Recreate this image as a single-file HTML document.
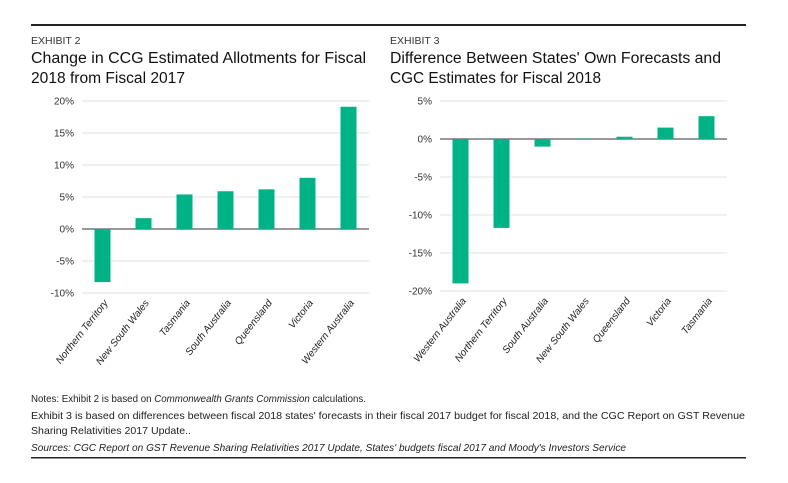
<!DOCTYPE html>
<html><head><meta charset="utf-8">
<style>
body{margin:0;background:#fff;width:788px;height:478px;overflow:hidden;font-family:"Liberation Sans",sans-serif;}
svg text{font-family:"Liberation Sans",sans-serif;}
</style></head>
<body>
<svg id="chart" width="788" height="478" xmlns="http://www.w3.org/2000/svg">
<rect x="31" y="24" width="715" height="2" fill="#222"/>
<text x="31" y="44" font-size="10.5" fill="#333">EXHIBIT 2</text>
<text x="31" y="63" font-size="15.5" fill="#111" textLength="335" lengthAdjust="spacingAndGlyphs">Change in CCG Estimated Allotments for Fiscal</text>
<text x="31" y="83" font-size="15.5" fill="#111" textLength="154" lengthAdjust="spacingAndGlyphs">2018 from Fiscal 2017</text>
<text x="390" y="44" font-size="10.5" fill="#333">EXHIBIT 3</text>
<text x="390" y="63" font-size="15.5" fill="#111" textLength="331" lengthAdjust="spacingAndGlyphs">Difference Between States' Own Forecasts and</text>
<text x="390" y="83" font-size="15.5" fill="#111" textLength="211" lengthAdjust="spacingAndGlyphs">CGC Estimates for Fiscal 2018</text>
<g id="c1"></g><g id="c2"></g>
<text x="31" y="402" font-size="10.5" fill="#222" textLength="335" lengthAdjust="spacingAndGlyphs">Notes: Exhibit 2 is based on <tspan font-style="italic">Commonwealth Grants Commission</tspan> calculations.</text>
<text x="31" y="419" font-size="10.5" fill="#222" textLength="714" lengthAdjust="spacingAndGlyphs">Exhibit 3 is based on differences between fiscal 2018 states' forecasts in their fiscal 2017 budget for fiscal 2018, and the CGC Report on GST Revenue</text>
<text x="31" y="434" font-size="10.5" fill="#222" textLength="160" lengthAdjust="spacingAndGlyphs">Sharing Relativities 2017 Update..</text>
<text x="31" y="451" font-size="10.5" font-style="italic" fill="#222" textLength="595" lengthAdjust="spacingAndGlyphs">Sources: CGC Report on GST Revenue Sharing Relativities 2017 Update, States' budgets fiscal 2017 and Moody's Investors Service</text>
<rect x="31" y="457" width="715" height="1.5" fill="#222"/>
</svg>
<script>
const cats1 = ["Northern Territory","New South Wales","Tasmania","South Australia","Queensland","Victoria","Western Australia"];
const vals1 = [-8.3, 1.7, 5.4, 5.9, 6.2, 8.0, 19.1];
const ticks1 = [20, 15, 10, 5, 0, -5, -10];
const cats2 = ["Western Australia","Northern Territory","South Australia","New South Wales","Queensland","Victoria","Tasmania"];
const vals2 = [-19.0, -11.7, -1.0, 0.05, 0.3, 1.5, 3.0];
const ticks2 = [5, 0, -5, -10, -15, -20];
const NS = "http://www.w3.org/2000/svg";
function mk(p, t, a){const e=document.createElementNS(NS,t);for(const k in a)e.setAttribute(k,a[k]);p.appendChild(e);return e;}
function draw(gid, cats, vals, ticks, cfg){
  const g=document.getElementById(gid);
  const max=ticks[0], min=ticks[ticks.length-1];
  const y=v=>cfg.top+(max-v)/(max-min)*(cfg.bottom-cfg.top);
  const step=(cfg.x1-cfg.x0)/cats.length;
  const xc=i=>cfg.x0+step*(i+0.5);
  ticks.forEach(t=>{
    const l=mk(g,"line",{x1:cfg.x0,x2:cfg.x1,y1:y(t),y2:y(t),stroke:t===0?"#777":"#e2e2e2","stroke-width":t===0?1.5:1});
    
    
    const tx=mk(g,"text",{x:cfg.x0-8,y:y(t)+3.5,"font-size":"10","text-anchor":"end",fill:"#333"});
    tx.textContent=t+"%";
    
    
  });
  vals.forEach((v,i)=>{
    const b=mk(g,"rect",{x:xc(i)-8,y:Math.min(y(v),y(0)),width:16,height:Math.max(Math.abs(y(v)-y(0)),0.5),fill:"#00b386"});
    
    
    const tx=mk(g,"text",{x:0,y:0,"font-size":"10","font-style":"italic","text-anchor":"end",fill:"#222",transform:`translate(${xc(i)+6},${cfg.bottom+10}) rotate(-52)`});
    tx.textContent=cats[i];
    
    
  });
}
draw("c1",cats1,vals1,ticks1,{x0:82,x1:369,top:101,bottom:293});
draw("c2",cats2,vals2,ticks2,{x0:440,x1:727,top:101,bottom:291});
</script>
</body></html>
